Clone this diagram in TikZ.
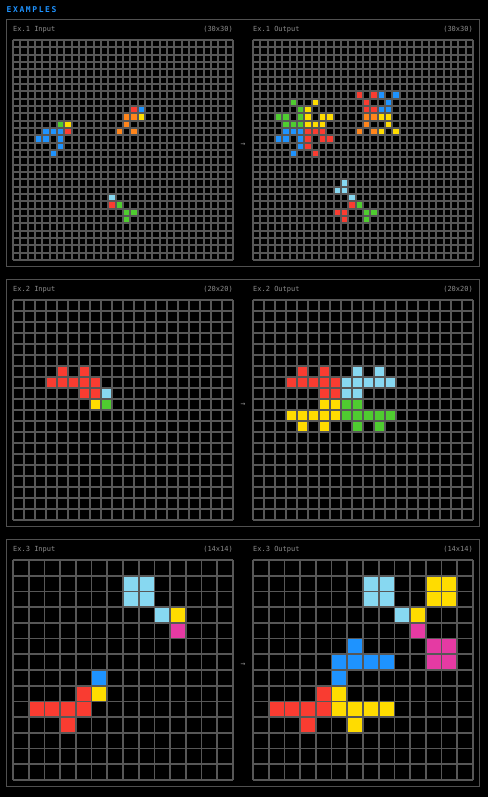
\documentclass[tikz,border=0pt]{standalone}
\usepackage{fontspec}
\setmonofont{DejaVu Sans Mono}
\usetikzlibrary{positioning}

\definecolor{cblue}{HTML}{1E93FF}
\definecolor{cred}{HTML}{F93C31}
\definecolor{cgreen}{HTML}{4FCC30}
\definecolor{cyellow}{HTML}{FFDC00}
\definecolor{cmagenta}{HTML}{E53AA3}
\definecolor{corange}{HTML}{FF851B}
\definecolor{clight}{HTML}{87D8F1}
\definecolor{gridgray}{HTML}{575757}
\definecolor{framegray}{HTML}{505050}
\definecolor{labelgray}{HTML}{8C8C8C}

% grid of n x n cells, 220 units wide, top left corner at (#1,#2)
\newcommand{\arcgrid}[3]{%
  \foreach \k in {0,...,#3}{
    \draw[gridline] ({#1+\k*220/#3},#2) -- ({#1+\k*220/#3},#2+220);
    \draw[gridline] (#1,{#2+\k*220/#3}) -- (#1+220,{#2+\k*220/#3});
  }}
% coloured cells: col/row/colour
\newcommand{\arccells}[4]{%
  \foreach \cx/\ry/\hue in {#4}{
    \fill[\hue] ({#1+\cx*220/#3},{#2+\ry*220/#3}) rectangle ++({220/#3},{220/#3});
  }}

\begin{document}
\begin{tikzpicture}[
    x=1pt, y=-1pt,
    gridline/.style={draw=gridgray, line width=1.7pt},
    panel/.style={draw=framegray, line width=0.9pt},
    label/.style={text=labelgray, font=\ttfamily\fontsize{7}{8}\selectfont, inner sep=0pt},
    size/.style={label, anchor=east},
    title/.style={text=cblue, font=\ttfamily\bfseries\fontsize{8}{9}\selectfont\addfontfeature{LetterSpace=20}, inner sep=0pt, anchor=west},
    pointer/.style={text=labelgray, font=\ttfamily\fontsize{8}{9}\selectfont, inner sep=0pt}
]
    \fill[black] (0,0) rectangle (488,797);
    \useasboundingbox (0,0) rectangle (488,797);

    \node (examples) [title] at (6.5,9.3) {EXAMPLES};

    % panels
    \draw[panel] (6.5,19.5) rectangle (479.5,266.5);
    \draw[panel] (6.5,279.5) rectangle (479.5,526.5);
    \draw[panel] (6.5,539.5) rectangle (479.5,786.5);

    % example 1
    \node (in1) [label, anchor=west] at (13,29.5) {Ex.1 Input};
    \node (insize1) [size] at (233,29.5) {(30x30)};
    \node (out1) [label, anchor=west] at (253,29.5) {Ex.1 Output};
    \node (outsize1) [size] at (473,29.5) {(30x30)};
    \node (arrow1) [pointer] at (243,145) {→};
    \arccells{13}{40}{30}{16/9/cred, 17/9/cblue, 15/10/corange, 16/10/corange, 17/10/cyellow,
      15/11/corange, 14/12/corange, 16/12/corange, 6/11/cgreen, 7/11/cyellow,
      4/12/cblue, 5/12/cblue, 6/12/cblue, 7/12/cred, 3/13/cblue, 4/13/cblue, 6/13/cblue,
      6/14/cblue, 5/15/cblue, 13/21/clight, 13/22/cred, 14/22/cgreen,
      15/23/cgreen, 16/23/cgreen, 15/24/cgreen}
    \arcgrid{13}{40}{30}
    \arccells{253}{40}{30}{14/7/cred, 16/7/cred, 17/7/cblue, 19/7/cblue,
      5/8/cgreen, 8/8/cyellow, 15/8/cred, 18/8/cblue,
      6/9/cgreen, 7/9/cyellow, 15/9/cred, 16/9/cred, 17/9/cblue, 18/9/cblue,
      3/10/cgreen, 4/10/cgreen, 6/10/cgreen, 7/10/cyellow, 9/10/cyellow, 10/10/cyellow,
      15/10/corange, 16/10/corange, 17/10/cyellow, 18/10/cyellow,
      4/11/cgreen, 5/11/cgreen, 6/11/cgreen, 7/11/cyellow, 8/11/cyellow, 9/11/cyellow,
      15/11/corange, 18/11/cyellow,
      4/12/cblue, 5/12/cblue, 6/12/cblue, 7/12/cred, 8/12/cred, 9/12/cred,
      14/12/corange, 16/12/corange, 17/12/cyellow, 19/12/cyellow,
      3/13/cblue, 4/13/cblue, 6/13/cblue, 7/13/cred, 9/13/cred, 10/13/cred,
      6/14/cblue, 7/14/cred, 5/15/cblue, 8/15/cred,
      12/19/clight, 11/20/clight, 12/20/clight, 13/21/clight,
      13/22/cred, 14/22/cgreen, 11/23/cred, 12/23/cred, 15/23/cgreen, 16/23/cgreen,
      12/24/cred, 15/24/cgreen}
    \arcgrid{253}{40}{30}

    % example 2
    \node (in2) [label, anchor=west] at (13,289.5) {Ex.2 Input};
    \node (insize2) [size] at (233,289.5) {(20x20)};
    \node (out2) [label, anchor=west] at (253,289.5) {Ex.2 Output};
    \node (outsize2) [size] at (473,289.5) {(20x20)};
    \node (arrow2) [pointer] at (243,405) {→};
    \arccells{13}{300}{20}{4/6/cred, 6/6/cred, 3/7/cred, 4/7/cred, 5/7/cred, 6/7/cred, 7/7/cred,
      6/8/cred, 7/8/cred, 8/8/clight, 7/9/cyellow, 8/9/cgreen}
    \arcgrid{13}{300}{20}
    \arccells{253}{300}{20}{4/6/cred, 6/6/cred, 9/6/clight, 11/6/clight,
      3/7/cred, 4/7/cred, 5/7/cred, 6/7/cred, 7/7/cred,
      8/7/clight, 9/7/clight, 10/7/clight, 11/7/clight, 12/7/clight,
      6/8/cred, 7/8/cred, 8/8/clight, 9/8/clight,
      6/9/cyellow, 7/9/cyellow, 8/9/cgreen, 9/9/cgreen,
      3/10/cyellow, 4/10/cyellow, 5/10/cyellow, 6/10/cyellow, 7/10/cyellow,
      8/10/cgreen, 9/10/cgreen, 10/10/cgreen, 11/10/cgreen, 12/10/cgreen,
      4/11/cyellow, 6/11/cyellow, 9/11/cgreen, 11/11/cgreen}
    \arcgrid{253}{300}{20}

    % example 3
    \node (in3) [label, anchor=west] at (13,549.5) {Ex.3 Input};
    \node (insize3) [size] at (233,549.5) {(14x14)};
    \node (out3) [label, anchor=west] at (253,549.5) {Ex.3 Output};
    \node (outsize3) [size] at (473,549.5) {(14x14)};
    \node (arrow3) [pointer] at (243,665) {→};
    \arccells{13}{560}{14}{7/1/clight, 8/1/clight, 7/2/clight, 8/2/clight, 9/3/clight,
      10/3/cyellow, 10/4/cmagenta, 5/7/cblue, 4/8/cred, 5/8/cyellow,
      1/9/cred, 2/9/cred, 3/9/cred, 4/9/cred, 3/10/cred}
    \arcgrid{13}{560}{14}
    \arccells{253}{560}{14}{7/1/clight, 8/1/clight, 7/2/clight, 8/2/clight, 9/3/clight,
      11/1/cyellow, 12/1/cyellow, 11/2/cyellow, 12/2/cyellow, 10/3/cyellow,
      10/4/cmagenta, 11/5/cmagenta, 12/5/cmagenta, 11/6/cmagenta, 12/6/cmagenta,
      6/5/cblue, 5/6/cblue, 6/6/cblue, 7/6/cblue, 8/6/cblue, 5/7/cblue,
      4/8/cred, 1/9/cred, 2/9/cred, 3/9/cred, 4/9/cred, 3/10/cred,
      5/8/cyellow, 5/9/cyellow, 6/9/cyellow, 7/9/cyellow, 8/9/cyellow, 6/10/cyellow}
    \arcgrid{253}{560}{14}
\end{tikzpicture}
\end{document}
